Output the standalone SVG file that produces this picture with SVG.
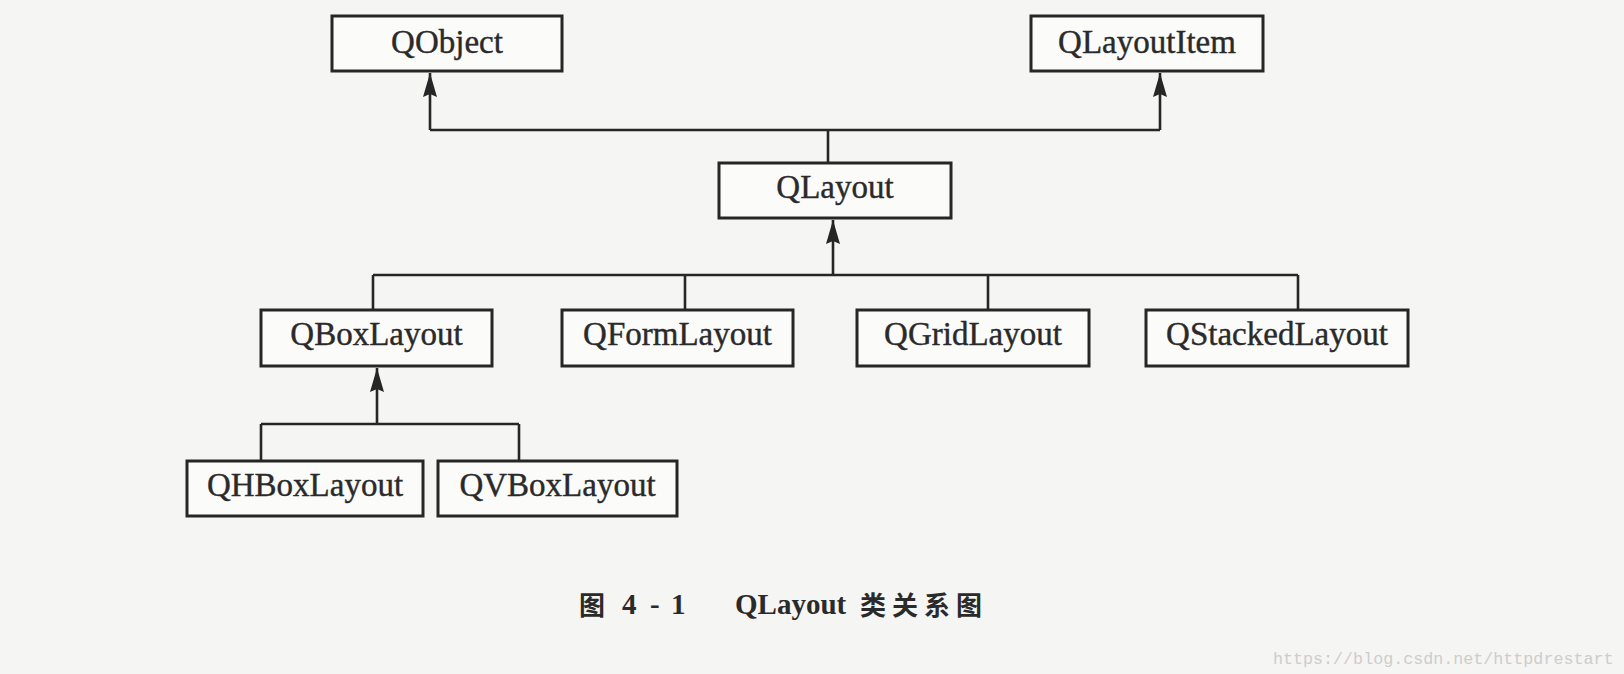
<svg xmlns="http://www.w3.org/2000/svg" width="1624" height="674" viewBox="0 0 1624 674">
<defs>
<style>
.box{fill:#fbfbfa;stroke:#262626;stroke-width:3}
.lbl{font-family:"Liberation Serif","Times New Roman",serif;font-size:33px;fill:#2a2a2a;stroke:#2a2a2a;stroke-width:0.4;text-anchor:middle}
.ln{fill:none;stroke:#262626;stroke-width:2.6}
.cap{font-family:"Liberation Serif",serif;font-weight:bold;font-size:29px;fill:#2a2a2a}
.capc{font-family:"Noto Sans CJK SC",sans-serif;font-weight:bold;font-size:26px;fill:#2a2a2a}
.wm{font-family:"Liberation Mono",monospace;font-size:16.7px;fill:#cdcdcd}
</style>
<marker id="arr" markerUnits="userSpaceOnUse" markerWidth="26" markerHeight="16" refX="24" refY="7" orient="auto">
<path d="M0,0 L24,7 L0,14 L3,7 z" fill="#262626"/>
</marker>
</defs>
<rect width="1624" height="674" fill="#f5f5f3"/>
<g id="connectors">
<path class="ln" d="M430,130 H1160"/>
<path class="ln" d="M430,130 V73" marker-end="url(#arr)"/>
<path class="ln" d="M1160,130 V73" marker-end="url(#arr)"/>
<path class="ln" d="M828,130 V163"/>
<path class="ln" d="M373,275 H1298"/>
<path class="ln" d="M833,275 V220" marker-end="url(#arr)"/>
<path class="ln" d="M373,275 V310 M685,275 V310 M988,275 V310 M1298,275 V310"/>
<path class="ln" d="M261,424 H519 M261,424 V461 M519,424 V461"/>
<path class="ln" d="M377,424 V368" marker-end="url(#arr)"/>
</g>
<g id="QObject"><rect class="box" x="332" y="16" width="230" height="55"/><text class="lbl" x="447" y="53">QObject</text></g>
<g id="QLayoutItem"><rect class="box" x="1031" y="16" width="232" height="55"/><text class="lbl" x="1147" y="53">QLayoutItem</text></g>
<g id="QLayout"><rect class="box" x="719" y="163" width="232" height="55"/><text class="lbl" x="835" y="198">QLayout</text></g>
<g id="QBoxLayout"><rect class="box" x="261" y="310" width="231" height="56"/><text class="lbl" x="376.5" y="345">QBoxLayout</text></g>
<g id="QFormLayout"><rect class="box" x="562" y="310" width="231" height="56"/><text class="lbl" x="677.5" y="345">QFormLayout</text></g>
<g id="QGridLayout"><rect class="box" x="857" y="310" width="232" height="56"/><text class="lbl" x="973" y="345">QGridLayout</text></g>
<g id="QStackedLayout"><rect class="box" x="1146" y="310" width="262" height="56"/><text class="lbl" x="1277" y="345">QStackedLayout</text></g>
<g id="QHBoxLayout"><rect class="box" x="187" y="461" width="236" height="55"/><text class="lbl" x="305" y="496">QHBoxLayout</text></g>
<g id="QVBoxLayout"><rect class="box" x="438" y="461" width="239" height="55"/><text class="lbl" x="557.5" y="496">QVBoxLayout</text></g>
<g id="caption">
<text class="capc" x="579" y="615">图</text>
<text class="cap" x="622" y="614">4</text>
<text class="cap" x="650" y="614">-</text>
<text class="cap" x="671" y="614">1</text>
<text class="cap" x="735" y="614">QLayout</text>
<text class="capc" x="860" y="615">类</text>
<text class="capc" x="892" y="615">关</text>
<text class="capc" x="924" y="615">系</text>
<text class="capc" x="956" y="615">图</text>
</g>
<text class="wm" x="1273" y="664">https://blog.csdn.net/httpdrestart</text>
</svg>
